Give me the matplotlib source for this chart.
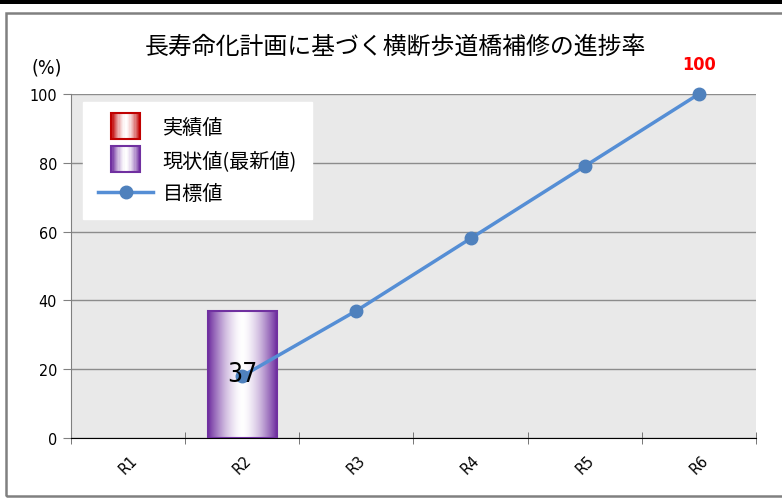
import matplotlib
matplotlib.use("Agg")
import matplotlib.pyplot as plt
import numpy as np
from matplotlib.patches import Rectangle
from matplotlib.legend_handler import HandlerBase
from matplotlib.lines import Line2D

plt.rcParams['font.family'] = ['Noto Sans CJK JP', 'DejaVu Sans']
narrow = ['DejaVu Sans']

# データ
years = ["R1", "R2", "R3", "R4", "R5", "R6"]
jisseki = [None, None, None, None, None, None]      # 実績値
genjo = [None, 37, None, None, None, None]          # 現状値(最新値)
mokuhyo = [None, 18, 37, 58, 79, 100]               # 目標値

red = "#c00000"
purple = "#7030a0"
blue = "#558ed5"


def grad_colors(edge, n):
    t = np.linspace(0, 1, n)
    w = np.abs(2 * t - 1) ** 1.6
    e = np.array(matplotlib.colors.to_rgb(edge))
    return (1 - w)[:, None] * np.ones(3) + w[:, None] * e


class HandlerGradient(HandlerBase):
    def __init__(self, edge):
        super().__init__()
        self.edge = edge

    def create_artists(self, legend, orig_handle, xdescent, ydescent,
                       width, height, fontsize, trans):
        sw = fontsize * 1.45
        sh = fontsize * 1.3
        x0 = width / 2 - xdescent - sw / 2
        y0 = height / 2 - ydescent - sh / 2
        cols = grad_colors(self.edge, 24)
        arts = []
        for i, c in enumerate(cols):
            r = Rectangle((x0 + i * sw / 24, y0), sw / 24 + 0.3, sh,
                          facecolor=c, edgecolor='none', transform=trans)
            arts.append(r)
        arts.append(Rectangle((x0, y0), sw, sh, facecolor='none',
                              edgecolor=self.edge, lw=1.5, transform=trans))
        return arts


fig = plt.figure(figsize=(7.82, 5.02), dpi=100)

# 外枠と上部の黒帯
fig.patches.append(Rectangle((0, 1 - 4.5 / 502), 1, 4.5 / 502, transform=fig.transFigure,
                             facecolor='black', edgecolor='none'))
fig.patches.append(Rectangle((6 / 782, 1 - 497 / 502), 1.0, (497 - 14) / 502,
                             transform=fig.transFigure, facecolor='none',
                             edgecolor='#808080', lw=1.8))

ax = fig.add_axes([71 / 782, 1 - 439 / 502, 685 / 782, 344 / 502])
ax.set_facecolor('#e9e9e9')

x = np.arange(len(years))
ax.set_xlim(-0.5, len(years) - 0.5)
ax.set_ylim(0, 100)
ax.set_yticks(range(0, 101, 20))
ax.yaxis.grid(True, color='#8c8c8c', lw=1)
ax.set_axisbelow(True)

# 現状値の棒(グラデーション)
bw = 0.6
gcols = grad_colors(purple, 64)[None, :, :]
for xi, v in zip(x, genjo):
    if v is None:
        continue
    bar = ax.bar(xi, v, width=bw, facecolor='none', edgecolor=purple, lw=1.5, zorder=3)[0]
    im = ax.imshow(gcols, extent=(xi - bw / 2, xi + bw / 2, 0, v), aspect='auto', zorder=2)
    im.set_clip_path(bar)
    ax.text(xi, v / 2, str(v), ha='center', va='center', fontsize=19,
            family=narrow, fontstretch='condensed', zorder=6)

# 目標値の折れ線
mx = [xi for xi, v in zip(x, mokuhyo) if v is not None]
my = [v for v in mokuhyo if v is not None]
ax.plot(mx, my, color=blue, lw=2.5, marker='o', markersize=9,
        markerfacecolor='#4f81bd', markeredgecolor='#4f81bd', zorder=5, clip_on=False)
ax.text(mx[-1], my[-1] + 6, str(my[-1]), ha='center', va='bottom', color='red',
        fontsize=13, fontweight='bold', family=narrow, fontstretch='condensed')

ax.set_xlim(-0.5, len(years) - 0.5)
ax.set_ylim(0, 100)

for s in ['top', 'right']:
    ax.spines[s].set_visible(False)
ax.spines['left'].set_color('#808080')
ax.spines['bottom'].set_color('black')

ax.set_xticks(x)
ax.set_xticklabels(years, rotation=45, ha='center', family=narrow,
                   fontstretch='condensed', fontsize=11.5)
ax.set_xticks(np.arange(-0.5, len(years)), minor=True)
ax.tick_params(axis='x', which='major', length=0, pad=10)
ax.tick_params(axis='x', which='minor', length=8, direction='inout', color='#606060')
ax.tick_params(axis='y', length=6, color='#808080', pad=4)
for lb in ax.get_yticklabels():
    lb.set_family(narrow)
    lb.set_fontstretch('condensed')
    lb.set_fontsize(11.5)

fig.text(395 / 782, 1 - 47 / 502, "長寿命化計画に基づく横断歩道橋補修の進捗率",
         ha='center', va='center', fontsize=17.2)
fig.text(47 / 782, 1 - 68 / 502, "(%)", ha='center', va='center',
         fontsize=14, family=narrow, fontstretch='condensed')

# 凡例
h_red = Rectangle((0, 0), 1, 1)
h_pur = Rectangle((0, 0), 1, 1)
h_line = Line2D([], [], color=blue, lw=2.5, marker='o', markersize=9,
                markerfacecolor='#4f81bd', markeredgecolor='#4f81bd')
leg = ax.legend([h_red, h_pur, h_line], ["実績値", "現状値(最新値)", "目標値"],
                handler_map={h_red: HandlerGradient(red), h_pur: HandlerGradient(purple)},
                loc='upper left', bbox_to_anchor=(83 / 782, 1 - 103 / 502),
                bbox_transform=fig.transFigure, borderaxespad=0, fontsize=14.5,
                frameon=True, fancybox=False, framealpha=1, edgecolor='white',
                handlelength=2.75, labelspacing=0.6, borderpad=0.75, handletextpad=0.45)
leg.set_zorder(7)

fig.savefig("out.png", dpi=100)
